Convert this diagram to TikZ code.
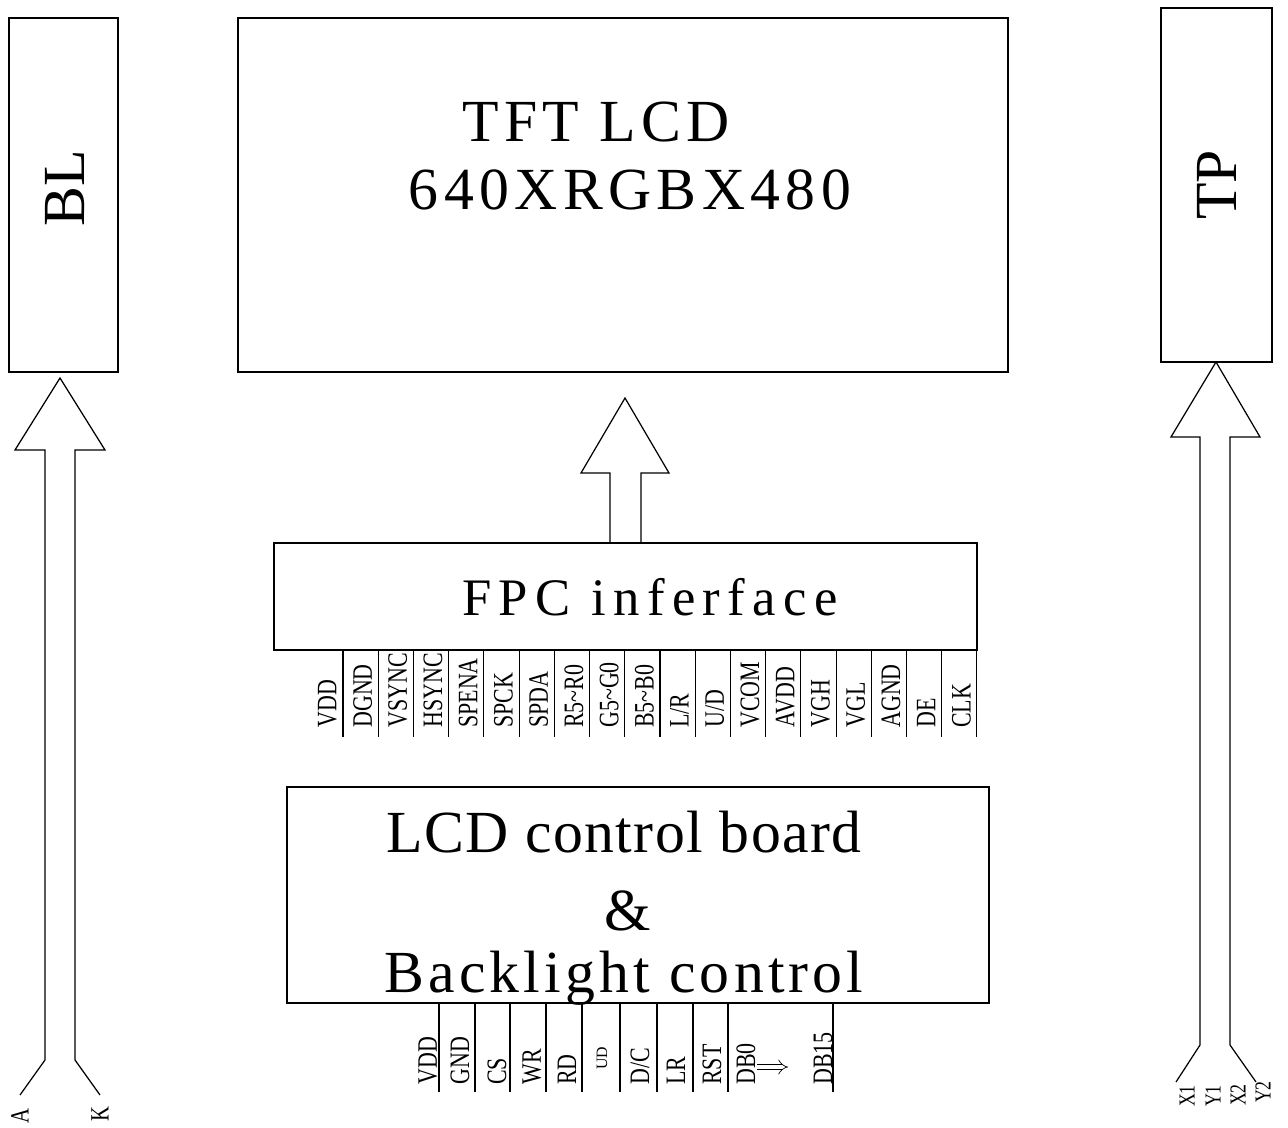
\documentclass[tikz,border=0pt]{standalone}
\usepackage{fontspec}
\setmainfont{Liberation Serif}
\usepackage{graphicx}
\usetikzlibrary{positioning, arrows.meta}

\newcommand{\pinlabel}[1]{\scalebox{0.78}[1]{#1}}

\begin{document}
\begin{tikzpicture}[
      x=0.02cm, y=-0.02cm,
      box/.style={draw, line width=0.8pt, inner sep=0pt},
      title/.style={font=\fontsize{34}{40}\selectfont},
      spaced/.style={font=\fontsize{34}{40}\selectfont\addfontfeatures{LetterSpace=#1}},
      pin/.style={rotate=90, anchor=west, inner sep=0pt, font=\fontsize{16}{16}\selectfont},
      wire/.style={line width=0.6pt},
      hollow/.style={line width=0.7pt, line join=miter}
    ]
    \useasboundingbox (0,0) rectangle (1288,1128);

    % blocks
    \node[box, minimum width=2.18cm, minimum height=7.08cm] (bl) at (63.5,195) {};
    \node[title, rotate=90] (bltext) at (65,188) {BL};
    \node[box, minimum width=15.4cm, minimum height=7.08cm] (tft) at (623,195) {};
    \node[spaced=9, anchor=base] (tfttitle) at (596,142) {TFT LCD};
    \node[spaced=9, anchor=base] (tftres) at (630,210) {640XRGBX480};
    \node[box, minimum width=2.22cm, minimum height=7.08cm] (tp) at (1216.5,185) {};
    \node[title, rotate=90] (tptext) at (1217,185) {TP};

    \node[box, minimum width=14.06cm, minimum height=2.14cm] (fpc) at (625.5,596.5) {};
    \node[font=\fontsize{30}{36}\selectfont\addfontfeatures{LetterSpace=14}, anchor=base] (fpctext) at (650,615) {FPC inferface};

    \node[box, minimum width=14.04cm, minimum height=4.32cm] (ctrl) at (638,895) {};
    \node[spaced=2.5, anchor=base] (ctrltop) at (624,852) {LCD control board};
    \node[title, anchor=base] (ctrlamp) at (628,930) {\&};
    \node[spaced=7, anchor=base] (ctrlbot) at (624,992) {Backlight control};

    % FPC pins
    \foreach \i in {0,...,18}
      \draw[wire] ({343+35.22*\i},650) -- ++(0,87);
    \foreach \t [count=\i] in {VDD,DGND,VSYNC,HSYNC,SPENA,SPCK,SPDA,R5\textasciitilde R0,G5\textasciitilde G0,B5\textasciitilde B0,L/R,U/D,VCOM,AVDD,VGH,VGL,AGND,DE,CLK}
      \node[pin] (fpc\i) at ({345+35.22*(\i-1.5)},728) {\pinlabel{\t}};

    % control board pins
    \foreach \x in {439,475,510,546,582,620,657,693,728,833}
      \draw[wire] (\x,1003) -- (\x,1092);
    \foreach \x/\t [count=\i] in {428/VDD,460/GND,497/CS,532/WR,567/RD,640/{D/C},676/LR,712/RST,746/DB0,823/DB15}
      \node[pin] (ctl\i) at (\x,1085) {\pinlabel{\t}};
    \node[pin, font=\fontsize{9}{9}\selectfont] (ctlud) at (602,1070) {UD};
    \coordinate (dbfrom) at (757,1067);
    \coordinate (dbto) at (788,1067);
    \draw[line width=0.4pt, double, double distance=2.6pt, -{Implies[length=5pt]}] (dbfrom) -- (dbto);

    % hollow arrows
    \draw[hollow] (20,1095) -- (45,1060) -- (45,450) -- (15,450) -- (60,378)
      -- (105,450) -- (75,450) -- (75,1060) -- (100,1095);
    \draw[hollow] (610,543) -- (610,473) -- (581,473) -- (625,398)
      -- (669,473) -- (641,473) -- (641,543);
    \draw[hollow] (1176,1082) -- (1200,1045) -- (1200,437) -- (1171,437) -- (1216,362)
      -- (1260,437) -- (1230,437) -- (1230,1045) -- (1256,1082);

    % line ends
    \node[pin, anchor=center, font=\fontsize{15}{15}\selectfont] (lblA) at (20,1116) {\pinlabel{A}};
    \node[pin, anchor=center, font=\fontsize{15}{15}\selectfont] (lblK) at (100,1114) {\pinlabel{K}};
    \node[pin, anchor=center, font=\fontsize{13}{13}\selectfont] (lblX1) at (1187,1096) {\pinlabel{X1}};
    \node[pin, anchor=center, font=\fontsize{13}{13}\selectfont] (lblY1) at (1213,1096) {\pinlabel{Y1}};
    \node[pin, anchor=center, font=\fontsize{13}{13}\selectfont] (lblX2) at (1238,1095) {\pinlabel{X2}};
    \node[pin, anchor=center, font=\fontsize{13}{13}\selectfont] (lblY2) at (1263,1092) {\pinlabel{Y2}};
  \end{tikzpicture}
\end{document}
